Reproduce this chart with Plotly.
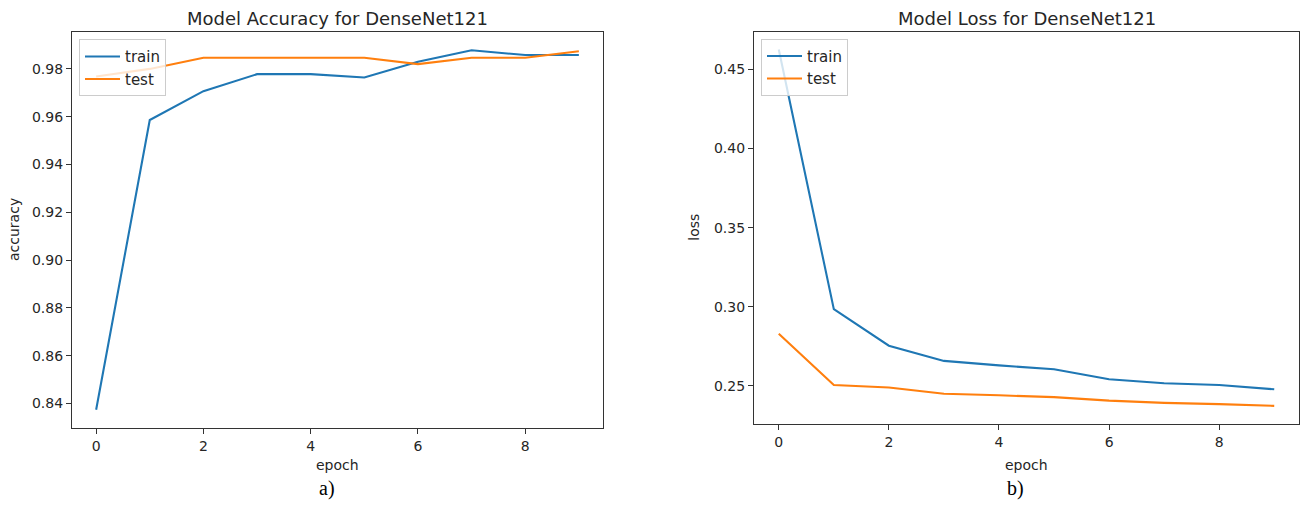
import plotly.graph_objects as go

epochs = list(range(10))
train_acc = [0.8374, 0.9586, 0.9707, 0.9778, 0.9778, 0.9764, 0.9830, 0.9878, 0.9858, 0.9858]
test_acc = [0.9768, 0.9800, 0.9847, 0.9847, 0.9847, 0.9847, 0.9820, 0.9847, 0.9847, 0.9874]
train_loss = [0.4625, 0.2985, 0.2754, 0.2658, 0.2630, 0.2605, 0.2542, 0.2517, 0.2506, 0.2479]
test_loss = [0.2830, 0.2506, 0.2490, 0.2451, 0.2441, 0.2429, 0.2407, 0.2393, 0.2385, 0.2374]

series_names = ["train", "test"]
titles = ["Model Accuracy for DenseNet121", "Model Loss for DenseNet121"]
ylabels = ["accuracy", "loss"]
xlabel = "epoch"
captions = ["a)", "b)"]

W, H = 1304, 506
BLUE, ORANGE = "#1f77b4", "#ff7f0e"
FONT = "DejaVu Sans"
TXT = "#262626"


def auto_range(vals, m=0.05):
    lo, hi = min(vals), max(vals)
    d = hi - lo
    return [lo - m * d, hi + m * d]


# axes frames in pixels (left, right, top, bottom)
frames = [(72, 603, 32.3, 427.7), (754, 1299, 31.7, 423.7)]


def xd(px):
    return px / W


def yd(py):
    return 1 - py / H


fig = go.Figure()

data = [(train_acc, test_acc), (train_loss, test_loss)]
for i, (tr, te) in enumerate(data):
    xa = "x" if i == 0 else "x2"
    ya = "y" if i == 0 else "y2"
    lg = "legend" if i == 0 else "legend2"
    for name, vals, col in zip(series_names, (tr, te), (BLUE, ORANGE)):
        fig.add_trace(go.Scatter(
            x=epochs, y=vals, mode="lines", name=name,
            line=dict(color=col, width=2.1),
            xaxis=xa, yaxis=ya, legend=lg,
        ))

axis_common = dict(
    showline=True, mirror=True, linecolor="#333333", linewidth=1.3,
    ticks="outside", ticklen=5, tickwidth=1.1, tickcolor="#333333",
    showgrid=False, zeroline=False,
    tickfont=dict(family=FONT, size=14, color=TXT),
)

layout = dict(
    width=W, height=H,
    margin=dict(l=0, r=0, t=0, b=0),
    paper_bgcolor="white", plot_bgcolor="white",
    font=dict(family=FONT, color=TXT),
    showlegend=True,
)

xr = auto_range(epochs)
for i, (tr, te) in enumerate(data):
    l, r, t, b = frames[i]
    sfx = "" if i == 0 else "2"
    layout["xaxis" + sfx] = dict(
        domain=[xd(l), xd(r)], range=xr, tick0=0, dtick=2,
        anchor="y" + sfx, **axis_common)
    layout["yaxis" + sfx] = dict(
        domain=[yd(b), yd(t)], range=auto_range(tr + te),
        dtick=0.02 if i == 0 else 0.05, tickformat=".2f",
        anchor="x" + sfx, **axis_common)
    layout["legend" + sfx] = dict(
        x=xd(l + 7), y=yd(t + 7), xanchor="left", yanchor="top",
        bgcolor="rgba(255,255,255,0.8)", bordercolor="#cccccc", borderwidth=1,
        font=dict(family=FONT, size=15, color=TXT),
        itemwidth=35, tracegroupgap=0,
    )

annotations = []
for i in range(2):
    l, r, t, b = frames[i]
    cx = (l + r) / 2
    annotations.append(dict(
        text=titles[i], x=xd(cx), y=yd(18), xref="paper", yref="paper",
        xanchor="center", yanchor="middle", showarrow=False,
        font=dict(family=FONT, size=18, color=TXT)))
    annotations.append(dict(
        text=xlabel, x=xd(cx), y=yd(465), xref="paper", yref="paper",
        xanchor="center", yanchor="middle", showarrow=False,
        font=dict(family=FONT, size=14, color=TXT)))
    annotations.append(dict(
        text=ylabels[i], x=xd(l - 58 if i == 0 else l - 60), y=yd((t + b) / 2),
        xref="paper", yref="paper", textangle=-90,
        xanchor="center", yanchor="middle", showarrow=False,
        font=dict(family=FONT, size=14, color=TXT)))
    annotations.append(dict(
        text=captions[i], x=xd(cx - 11), y=yd(488), xref="paper", yref="paper",
        xanchor="center", yanchor="middle", showarrow=False,
        font=dict(family="Liberation Serif", size=20, color="black")))

layout["annotations"] = annotations
fig.update_layout(**layout)
fig.write_html("out.html", config={"displayModeBar": False},
               post_script="document.body.style.margin='0';")
